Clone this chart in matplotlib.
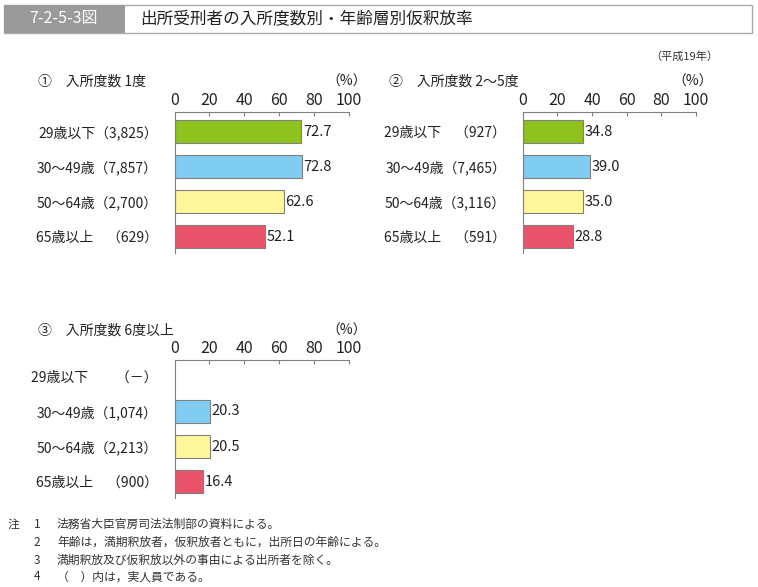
import numpy as np
import matplotlib.pyplot as plt
from matplotlib.patches import Rectangle

plt.rcParams['font.family'] = ['Noto Sans CJK JP', 'DejaVu Sans']

# data
ages = ['29歳以下', '30～49歳', '50～64歳', '65歳以上']
panel_titles = ['①　入所度数 1度', '②　入所度数 2～5度', '③　入所度数 6度以上']
counts_1 = ['（3,825）', '（7,857）', '（2,700）', '　（629）']
counts_2 = ['　（927）', '（7,465）', '（3,116）', '　（591）']
counts_3 = ['　　（－）', '（1,074）', '（2,213）', '　（900）']
rates_1 = [72.7, 72.8, 62.6, 52.1]
rates_2 = [34.8, 39.0, 35.0, 28.8]
rates_3 = [None, 20.3, 20.5, 16.4]
colors = ['#8DC21F', '#7FCDF2', '#FFF799', '#E9546B']
xticks = [0, 20, 40, 60, 80, 100]

notes = ['法務省大臣官房司法法制部の資料による。',
         '年齢は，満期釈放者，仮釈放者ともに，出所日の年齢による。',
         '満期釈放及び仮釈放以外の事由による出所者を除く。',
         '（　）内は，実人員である。']

W, H = 758, 587
fig = plt.figure(figsize=(W / 100, H / 100), dpi=100)


def px_axes(x0, x1, y0, y1):
    return fig.add_axes([x0 / W, 1 - y1 / H, (x1 - x0) / W, (y1 - y0) / H])


def panel(ax, title, counts, rates, ylim):
    for i, v in enumerate(rates):
        if v is None:
            continue
        ax.barh(i, v, height=0.66, color=colors[i], edgecolor='#808080', linewidth=0.8)
        ax.text(v + 0.8, i, f'{v:.1f}', va='center', ha='left', fontsize=10.5, color='#222222')
    ax.set_xlim(0, 100)
    ax.set_ylim(ylim)
    ax.xaxis.tick_top()
    ax.set_xticks(xticks)
    ax.tick_params(axis='x', direction='in', length=3, width=0.8, color='#808080',
                   labelsize=11.5, pad=2, labelcolor='#222222')
    ax.set_yticks(range(len(ages)))
    ax.set_yticklabels([a + c for a, c in zip(ages, counts)], fontsize=10, color='#222222')
    ax.tick_params(axis='y', length=0, pad=12)
    for s in ['right', 'bottom']:
        ax.spines[s].set_visible(False)
    for s in ['top', 'left']:
        ax.spines[s].set_color('#808080')
        ax.spines[s].set_linewidth(0.8)
    ax.text(-0.78, 1.215, title, transform=ax.transAxes, fontsize=10, ha='left',
            va='center', color='#222222')
    ax.text(1.1, 1.215, '（%）', transform=ax.transAxes, fontsize=10, ha='right',
            va='center', color='#222222')


ax1 = px_axes(174.5, 349, 112, 253)
panel(ax1, panel_titles[0], counts_1, rates_1, (3.47, -0.56))
ax2 = px_axes(522.7, 696, 112, 253)
panel(ax2, panel_titles[1], counts_2, rates_2, (3.47, -0.56))
ax2.texts[-2].set_x(-0.77)
ax3 = px_axes(174.5, 349, 360, 498)
panel(ax3, panel_titles[2], counts_3, rates_3, (3.47, -0.47))

# header
fig.patches.append(Rectangle((4 / W, 1 - 33 / H), 748 / W, 28 / H, transform=fig.transFigure,
                             facecolor='white', edgecolor='#aaaaaa', linewidth=1.0))
fig.patches.append(Rectangle((4 / W, 1 - 33 / H), 121 / W, 28 / H, transform=fig.transFigure,
                             facecolor='#9a9a9a', edgecolor='none'))
fig.text(64 / W, 1 - 19 / H, '7-2-5-3図', color='white', fontsize=11.5, ha='center', va='center')
fig.text(140 / W, 1 - 19 / H, '出所受刑者の入所度数別・年齢層別仮釈放率', color='#222222',
         fontsize=12, ha='left', va='center')
fig.text(718 / W, 1 - 57 / H, '（平成19年）', color='#333333', fontsize=8, ha='right', va='center')

# notes
note_y = [524, 542, 560, 577]
fig.text(8 / W, 1 - note_y[0] / H, '注', fontsize=8.5, ha='left', va='center', color='#333333')
for k, (y, t) in enumerate(zip(note_y, notes)):
    fig.text(37 / W, 1 - y / H, str(k + 1), fontsize=8.5, ha='center', va='center', color='#333333')
    fig.text(57 / W, 1 - y / H, t, fontsize=8.5, ha='left', va='center', color='#333333')

fig.savefig('out.png', dpi=100)
